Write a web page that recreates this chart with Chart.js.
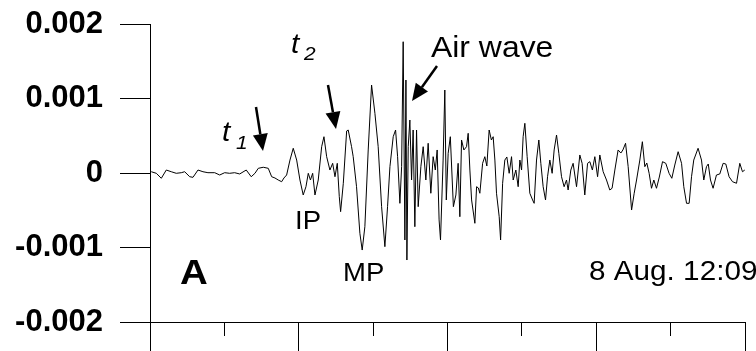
<!DOCTYPE html>
<html>
<head>
<meta charset="utf-8">
<script src="https://cdn.jsdelivr.net/npm/chart.js@4.4.1/dist/chart.umd.min.js"></script>
<style>
  html, body { margin: 0; padding: 0; background: #fff; }
  canvas { display: block; }
</style>
</head>
<body>
<canvas id="seismoChart" width="756" height="351"></canvas>
<script>
// time axis in arbitrary units (ticks every 100), amplitude in units of 0.001
var sampleTime = [
  1.7, 8.5, 15.2, 21.9, 28.6, 35.3, 42.1, 46.6, 53.4, 57.8, 64.5, 71.2, 77.9, 87.0, 93.7,
  100.4, 107.1, 113.8, 120.6, 129.4, 136.1, 141.1, 145.6, 152.3, 159.0, 163.6, 168.0, 172.4,
  177.0, 180.1, 183.7, 188.2, 192.6, 197.2, 201.6, 206.0, 209.7, 212.8, 215.7, 218.7, 221.8,
  226.2, 230.8, 233.9, 237.5, 241.9, 245.6, 248.7, 251.8, 254.5, 256.3, 259.9, 264.4, 266.5,
  271.0, 273.2, 277.7, 282.2, 285.3, 288.9, 293.4, 297.9, 302.4, 306.8, 311.4, 315.8, 319.4,
  322.6, 327.0, 330.2, 332.9, 336.0, 338.3, 340.4, 342.7, 344.1, 345.4, 347.2, 349.4, 351.7,
  353.8, 356.1, 358.4, 360.6, 364.2, 367.3, 370.9, 374.0, 377.6, 380.7, 383.6, 386.1, 388.7,
  390.6, 394.1, 396.4, 398.4, 400.9, 403.8, 407.9, 411.3, 414.3, 416.6, 418.9, 422.0, 425.6,
  427.8, 430.1, 432.4, 436.8, 439.1, 441.5, 443.5, 447.2, 450.2, 452.9, 456.0, 459.0, 461.4,
  463.7, 465.9, 469.5, 471.4, 474.1, 477.1, 479.8, 482.9, 486.1, 488.3, 491.9, 495.0, 497.3,
  499.6, 501.7, 504.0, 507.1, 510.7, 514.4, 516.5, 519.7, 522.8, 525.5, 528.6, 531.8, 534.5,
  537.6, 540.7, 543.4, 546.6, 549.7, 553.3, 556.8, 560.0, 562.2, 565.8, 568.9, 573.5, 577.9,
  581.0, 584.6, 588.3, 591.4, 594.8, 598.1, 601.8, 604.8, 609.3, 613.8, 618.2, 621.3, 625.0,
  629.4, 633.1, 635.8, 639.4, 642.9, 647.5, 651.0, 654.2, 658.6, 662.0, 665.3, 668.0, 671.1,
  674.3, 677.4, 681.0, 684.8, 689.1, 693.5, 697.9, 701.6, 705.6, 710.1, 714.7, 717.7, 721.4,
  724.9, 728.1, 731.1, 736.9, 741.5, 744.6, 748.2, 750.6, 753.6, 757.1, 761.6, 766.1, 770.6,
  774.2, 778.6, 783.2, 788.6, 793.0, 796.6, 799.7
];
var ampMilli = [
  0.017, -0.004, -0.071, 0.040, 0.017, -0.004, 0.004, 0.017, -0.050, -0.058, 0.040, 0.017, 0.004, 0.004, -0.027,
  0.004, -0.004, 0.004, -0.013, 0.040, -0.050, -0.004, 0.063, 0.077, 0.063, -0.050, -0.067, -0.094,
  -0.117, -0.067, -0.027, 0.174, 0.332, 0.174, -0.094, -0.295, -0.184, -0.004, -0.094, -0.004, -0.295,
  -0.094, 0.353, 0.487, 0.219, 0.040, 0.130, -0.050, 0.130, -0.318, -0.519, -0.138, 0.564, 0.577,
  0.353, 0.219, -0.184, -0.809, -1.034, -0.721, 0.309, 1.181, 0.801, 0.353, -0.452, -0.989, -0.452,
  0.085, 0.487, 0.577, 0.219, -0.407, 0.085, 1.762, -0.899, 1.248, -1.168, 0.353, 0.711, -0.094,
  0.577, -0.721, 0.577, -0.452, 0.085, 0.353, -0.094, 0.399, -0.272, 0.219, 0.040, 0.309, -0.630,
  -0.899, 0.174, 1.114, -0.362, 0.264, 0.487, -0.452, -0.295, 0.130, -0.587, 0.443, 0.309, 0.353,
  0.533, 0.040, -0.362, -0.675, -0.184, -0.201, -0.272, 0.130, 0.219, 0.094, 0.577, 0.443, 0.487,
  0.174, -0.272, -0.587, -0.899, -0.138, 0.174, 0.215, -0.004, 0.219, -0.094, 0.040, -0.184, 0.174,
  0.040, 0.487, 0.667, 0.219, -0.272, -0.362, -0.407, 0.174, 0.443, 0.130, -0.184, -0.362, -0.050,
  0.174, -0.004, 0.309, 0.510, 0.264, -0.050, -0.184, -0.094, -0.228, 0.040, 0.130, -0.184, 0.242,
  0.130, -0.295, 0.130, 0.152, 0.040, 0.219, -0.050, 0.242, 0.017, -0.094, -0.228, -0.205, 0.040,
  0.309, 0.268, 0.309, 0.399, 0.085, -0.497, -0.272, -0.094, 0.174, 0.420, 0.085, 0.134, -0.004,
  -0.205, -0.094, -0.205, -0.054, 0.152, 0.130, -0.004, -0.071, 0.107, 0.286, 0.130, -0.184, -0.407,
  -0.407, -0.050, 0.174, 0.332, 0.174, -0.094, 0.085, 0.121, -0.094, -0.205, -0.027, -0.013, 0.130,
  0.121, -0.050, -0.117, -0.138, 0.130, 0.017, 0.040
];
var yTickValues = [-0.002, -0.001, 0, 0.001, 0.002];

var points = sampleTime.map(function (t, i) {
    return { x: t, y: ampMilli[i] / 1000 };
});

function drawArrow(ctx, x1, y1, x2, y2) {
    var ang = Math.atan2(y2 - y1, x2 - x1);
    var headLen = 17, headW = 7.5;
    var bx = x2 - headLen * Math.cos(ang), by = y2 - headLen * Math.sin(ang);
    ctx.beginPath();
    ctx.moveTo(x1, y1);
    ctx.lineTo(bx, by);
    ctx.lineWidth = 2.5;
    ctx.strokeStyle = '#000';
    ctx.stroke();
    ctx.beginPath();
    ctx.moveTo(x2, y2);
    ctx.lineTo(bx + headW * Math.sin(ang), by - headW * Math.cos(ang));
    ctx.lineTo(bx - headW * Math.sin(ang), by + headW * Math.cos(ang));
    ctx.closePath();
    ctx.fillStyle = '#000';
    ctx.fill();
}

function wideText(ctx, txt, x, y, font) {
    ctx.save();
    ctx.font = font;
    ctx.translate(x, y);
    ctx.scale(1.1, 1);
    ctx.fillStyle = '#000';
    ctx.textBaseline = 'alphabetic';
    ctx.textAlign = 'left';
    ctx.fillText(txt, 0, 0);
    ctx.restore();
}

var notes = {
    id: 'notes',
    afterDraw: function (chart) {
        var ctx = chart.ctx;
        var ff = '"Liberation Sans", Arial, sans-serif';
        ctx.save();
        // t1
        wideText(ctx, 't', 222, 141, 'italic 27px ' + ff);
        wideText(ctx, '1', 236, 149, 'italic 19px ' + ff);
        drawArrow(ctx, 256, 107, 263, 151);
        // t2
        wideText(ctx, 't', 291, 53, 'italic 27px ' + ff);
        wideText(ctx, '2', 304, 60, 'italic 19px ' + ff);
        drawArrow(ctx, 328, 85, 336, 129);
        // air wave
        wideText(ctx, 'Air wave', 431, 57, '29px ' + ff);
        drawArrow(ctx, 437, 66, 412, 101);
        wideText(ctx, 'IP', 295, 229, '25px ' + ff);
        wideText(ctx, 'MP', 343, 281, '25px ' + ff);
        wideText(ctx, 'A', 180, 284, 'bold 35px ' + ff);
        wideText(ctx, '8 Aug. 12:09', 589, 280, '27px ' + ff);
        ctx.restore();
    }
};

new Chart(document.getElementById('seismoChart'), {
    type: 'line',
    data: {
        datasets: [{
            data: points,
            borderColor: '#000',
            borderWidth: 1,
            pointRadius: 0,
            tension: 0,
            fill: false
        }]
    },
    options: {
        responsive: false,
        animation: false,
        layout: { padding: { top: 24, right: 11, left: 0, bottom: 0 } },
        plugins: { legend: { display: false }, tooltip: { enabled: false } },
        scales: {
            x: {
                type: 'linear',
                min: 0,
                max: 800,
                ticks: { stepSize: 100, display: false },
                border: { color: '#000', width: 1 },
                grid: {
                    drawOnChartArea: false,
                    tickLength: 29,
                    tickColor: '#000',
                    tickWidth: 1,
                    tickBorderDash: function (c) {
                        // short ticks at odd hundreds
                        return Math.round(c.tick.value / 100) % 2 ? [13, 100] : [];
                    }
                },
                afterFit: function (s) { s.height = 29; s.paddingLeft = 0; s.paddingRight = 0; }
            },
            y: {
                min: -0.002,
                max: 0.002,
                ticks: {
                    stepSize: 0.0005,
                    color: '#000',
                    padding: 17,
                    font: { family: '"Liberation Sans", Arial, sans-serif', weight: 'bold', size: 31 },
                    callback: function (v) {
                        var k = Math.round(v * 2000);
                        if (k % 2 !== 0) return '';
                        var lab = yTickValues.find(function (t) { return Math.abs(t - v) < 1e-9; });
                        return lab === 0 ? '0' : String(lab);
                    }
                },
                border: { color: '#000', width: 1 },
                grid: {
                    drawOnChartArea: false,
                    tickLength: 30,
                    tickColor: '#000',
                    tickWidth: 1,
                    tickBorderDash: function (c) {
                        return Math.round(c.tick.value * 2000) % 2 ? [0, 16, 14, 100] : [];
                    }
                },
                afterFit: function (s) { s.width = 150; s.paddingTop = 0; s.paddingBottom = 0; }
            }
        }
    },
    plugins: [notes]
});
</script>
</body>
</html>
